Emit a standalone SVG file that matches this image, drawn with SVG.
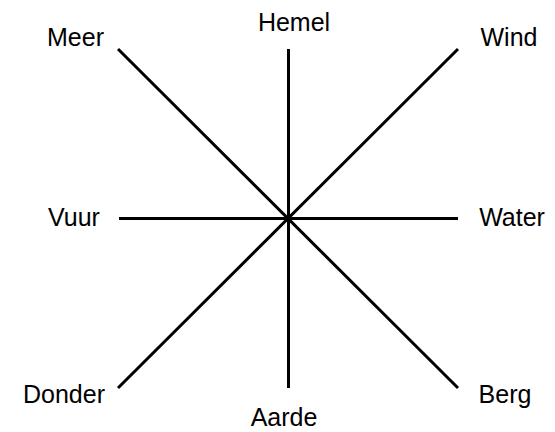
<svg xmlns="http://www.w3.org/2000/svg" width="555" height="432" viewBox="0 0 555 432">
<style>
.lbl{font-family:"Liberation Sans",Arial,sans-serif;font-size:25px;fill:#000;text-anchor:middle}
.ln{stroke:#000;stroke-width:3;fill:none}
</style>
<rect width="555" height="432" fill="#fff"/>
<g id="connectors">
<line class="ln" x1="288.5" y1="49" x2="288.5" y2="388"/>
<line class="ln" x1="119" y1="218.5" x2="458" y2="218.5"/>
<line class="ln" x1="118" y1="49" x2="458" y2="388"/>
<line class="ln" x1="458" y1="49" x2="118" y2="388"/>
</g>
<g id="hemel"><text class="lbl" x="294" y="31">Hemel</text></g>
<g id="meer"><text class="lbl" x="75.5" y="46">Meer</text></g>
<g id="wind"><text class="lbl" x="509" y="46">Wind</text></g>
<g id="vuur"><text class="lbl" x="74" y="226">Vuur</text></g>
<g id="water"><text class="lbl" x="512" y="226">Water</text></g>
<g id="donder"><text class="lbl" x="64" y="403">Donder</text></g>
<g id="aarde"><text class="lbl" x="284" y="426">Aarde</text></g>
<g id="berg"><text class="lbl" x="505" y="403">Berg</text></g>
</svg>
